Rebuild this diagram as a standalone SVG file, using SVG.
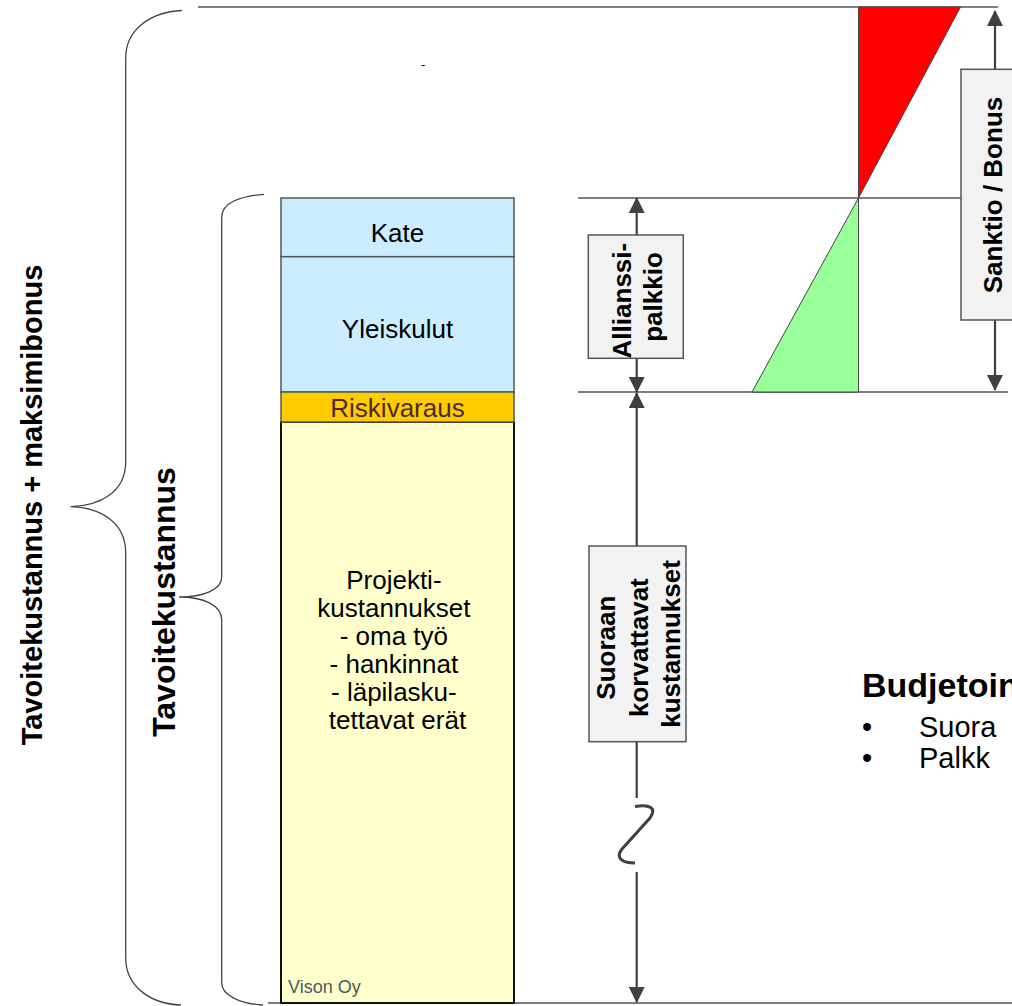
<svg xmlns="http://www.w3.org/2000/svg" width="1012" height="1006" viewBox="0 0 1012 1006">
<style>
.t{font-family:"Liberation Sans",Arial,sans-serif;font-size:26px;fill:#000}
.b{font-family:"Liberation Sans",Arial,sans-serif;font-size:26px;font-weight:bold;fill:#000}
.guide{stroke:#555;stroke-width:1.3;fill:none}
.brace{stroke:#444;stroke-width:1.3;fill:none}
.arr{stroke:#404040;stroke-width:2.2;fill:none}
.lbl{fill:#F2F2F2;stroke:#555;stroke-width:1.5}
</style>
<defs>
<marker id="ah" viewBox="0 0 16 16" refX="15" refY="8" markerWidth="16" markerHeight="16" markerUnits="userSpaceOnUse" orient="auto-start-reverse">
<path d="M0,0 L16,8 L0,16 z" fill="#404040"/>
</marker>
</defs>
<rect width="1012" height="1006" fill="#fff"/>

<g id="guides">
<line class="guide" x1="198" y1="7" x2="998" y2="7"/>
<line class="guide" x1="578" y1="198" x2="961" y2="198"/>
<line class="guide" x1="578" y1="392" x2="1008" y2="392"/>
<line class="guide" x1="268" y1="1003" x2="1012" y2="1003"/>
</g>

<g id="brace-outer">
<path class="brace" d="M182,10.5 C150,12 125.7,30 125.7,58 L125.7,462 C125.7,492 100,506 70.7,506.7 C100,507.5 125.7,522 125.7,553 L125.7,958 C125.7,986 150,1004 181,1005"/>
<text class="b" style="font-size:29px" transform="translate(42,505) rotate(-90)" text-anchor="middle">Tavoitekustannus + maksimibonus</text>
</g>

<g id="brace-inner">
<path class="brace" d="M264,194.3 C240,196 221.7,203 221.7,217 L221.7,577 C221.7,590 203,597 179,597 C203,597 221.7,605 221.7,620 L221.7,983 C221.7,995 240,1004 263,1005"/>
<text class="b" style="font-size:32px" transform="translate(175,602) rotate(-90)" text-anchor="middle">Tavoitekustannus</text>
</g>

<g id="kate">
<rect x="281" y="198" width="233" height="58.7" fill="#CCECFF" stroke="#555" stroke-width="1.5"/>
<text class="t" x="397.5" y="242" text-anchor="middle">Kate</text>
</g>
<g id="yleiskulut">
<rect x="281" y="256.7" width="233" height="135.3" fill="#CCECFF" stroke="#555" stroke-width="1.5"/>
<text class="t" x="397.5" y="338" text-anchor="middle">Yleiskulut</text>
</g>
<g id="projekti">
<rect x="281" y="422" width="233" height="581" fill="#FFFFCC" stroke="#111" stroke-width="2"/>
<text class="t" text-anchor="middle">
<tspan x="397.5" y="589">Projekti-</tspan>
<tspan x="397.5" y="617">kustannukset</tspan>
<tspan x="397.5" y="645">- oma työ</tspan>
<tspan x="397.5" y="673">- hankinnat</tspan>
<tspan x="397.5" y="701">- läpilasku-</tspan>
<tspan x="397.5" y="729">tettavat erät</tspan>
</text>
<text x="288" y="993" font-family="Liberation Sans, Arial, sans-serif" font-size="18" fill="#4D5761">Vison Oy</text>
</g>
<g id="riskivaraus">
<rect x="281" y="392" width="233" height="30" fill="#FFCC00" stroke="#555" stroke-width="1.5"/>
<text class="t" x="397.5" y="416.5" text-anchor="middle" style="fill:#4B2A3C">Riskivaraus</text>
</g>

<g id="triangles">
<polygon points="858.5,7 960.5,7 858.5,198" fill="#FF0000" stroke="#444" stroke-width="1"/>
<polygon points="858.5,198 858.5,392 752,392" fill="#99FF99" stroke="#444" stroke-width="1"/>
</g>

<g id="connectors">
<line class="arr" x1="636.7" y1="235" x2="636.7" y2="198" marker-end="url(#ah)"/>
<line class="arr" x1="636.7" y1="358" x2="636.7" y2="392" marker-end="url(#ah)"/>
<line class="arr" x1="636.7" y1="546" x2="636.7" y2="393" marker-end="url(#ah)"/>
<line class="arr" x1="636.7" y1="742" x2="636.7" y2="798"/>
<path d="M635,806.5 C650,804 657,808 650,818 L622,849 C615,858 622,863 635,863" stroke="#404040" stroke-width="3" fill="none"/>
<line class="arr" x1="636.7" y1="872" x2="636.7" y2="1002" marker-end="url(#ah)"/>
<line class="arr" x1="995" y1="69" x2="995" y2="11" marker-end="url(#ah)"/>
<line class="arr" x1="995" y1="320" x2="995" y2="390" marker-end="url(#ah)"/>
</g>

<g id="allianssipalkkio">
<rect class="lbl" x="588.3" y="235" width="95" height="123.3"/>
<text class="b" text-anchor="middle" transform="translate(0,297) rotate(-90)">
<tspan x="0" y="631">Allianssi-</tspan>
<tspan x="0" y="662">palkkio</tspan>
</text>
</g>

<g id="suoraan">
<rect class="lbl" x="589" y="546" width="97" height="195.7"/>
<text class="b" text-anchor="middle" transform="translate(0,644) rotate(-90)">
<tspan x="0" y="615">Suoraan</tspan>
<tspan x="0" y="647.5">korvattavat</tspan>
<tspan x="0" y="680">kustannukset</tspan>
</text>
</g>

<g id="sanktio">
<rect class="lbl" x="961" y="69.3" width="70" height="250.7"/>
<text class="b" text-anchor="middle" transform="translate(1002,195) rotate(-90)">Sanktio / Bonus</text>
</g>

<text x="421" y="69" font-family="Liberation Sans, Arial, sans-serif" font-size="13" fill="#000">-</text>

<g id="budjetointi">
<text x="862" y="697" font-family="Liberation Sans, Arial, sans-serif" font-size="34" font-weight="bold" fill="#000">Budjetoin</text>
<text font-family="Liberation Sans, Arial, sans-serif" font-size="29" fill="#000">
<tspan x="862" y="737">•</tspan><tspan x="919" y="737">Suora</tspan>
<tspan x="862" y="768">•</tspan><tspan x="919" y="768">Palkk</tspan>
</text>
</g>
</svg>
